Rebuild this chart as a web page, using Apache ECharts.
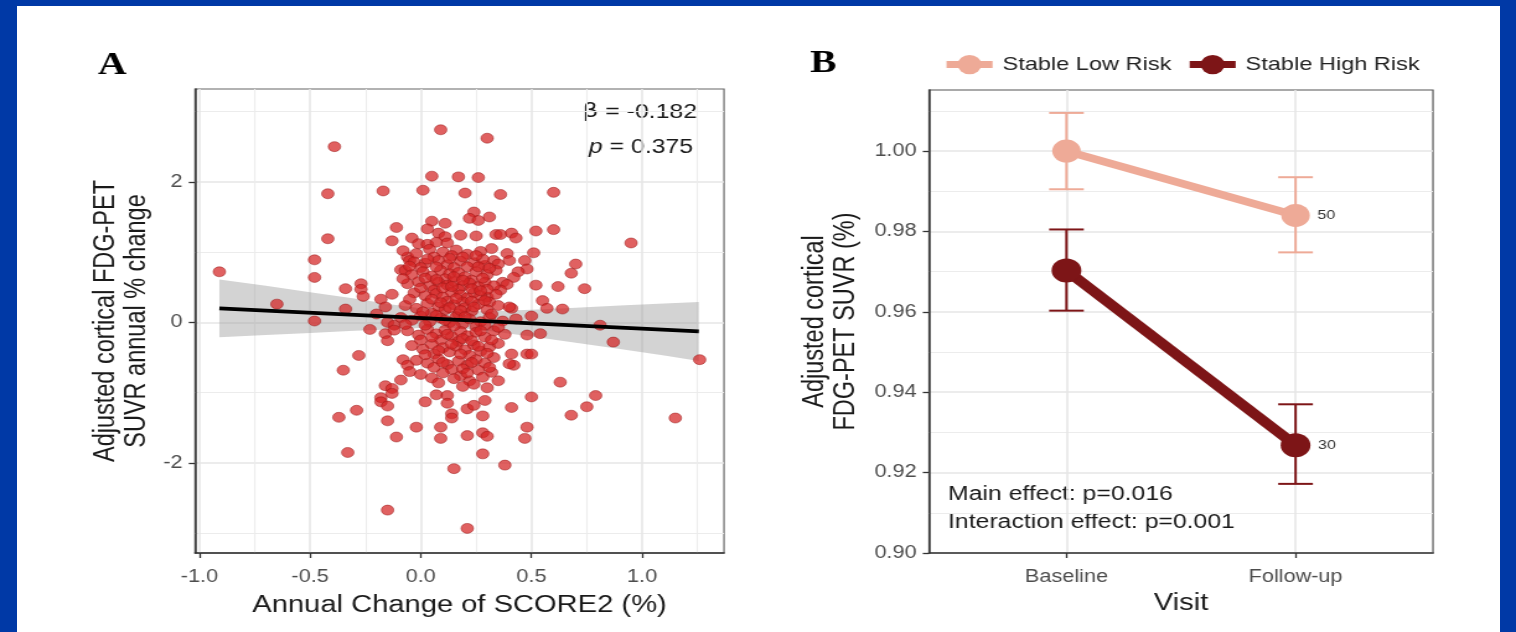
<!DOCTYPE html>
<html>
<head>
<meta charset="utf-8">
<script src="https://cdn.jsdelivr.net/npm/echarts@6.0.0/dist/echarts.min.js"></script>
<style>
  html, body { margin: 0; padding: 0; background: #0039a6; overflow: hidden; }
  #frame { position: absolute; left: 17px; top: 6px; width: 1483px; height: 626px; background: #fff; }
  #chart { position: absolute; left: 0; top: 0; height: 632px; transform-origin: 0 0; }
</style>
</head>
<body>
<div id="frame"></div>
<div id="chart"></div>
<script>
/******
  Panel A: scatter + fit, Panel B: visit means with error bars
******/

// ---- panel A data ----
var scorePoints = [
  [0.09,2.74],[-0.39,2.50],[0.30,2.62],[0.05,2.08],[0.17,2.07],[0.26,2.06],[-0.42,1.83],[-0.17,1.87],[0.01,1.88],[0.20,1.84],
  [0.36,1.82],[0.60,1.85],[0.24,1.57],[0.22,1.48],[0.26,1.45],[0.31,1.50],[0.05,1.44],[0.11,1.41],[-0.11,1.35],[0.03,1.33],
  [-0.42,1.19],[-0.13,1.16],[-0.04,1.20],[0.08,1.27],[0.11,1.22],[0.18,1.24],[0.25,1.23],[0.52,1.30],[0.60,1.32],[0.34,1.25],
  [0.36,1.25],[0.41,1.27],[0.43,1.20],[0.95,1.13],[-0.01,1.12],[0.03,1.11],[0.07,1.14],[0.12,1.13],[-0.48,0.89],[-0.48,0.64],
  [-0.91,0.72],[-0.34,0.48],[-0.27,0.55],[-0.27,0.47],[-0.26,0.37],[-0.13,0.40],[-0.65,0.26],[-0.34,0.19],[-0.48,0.02],[-0.09,0.75],
  [-0.07,0.74],[-0.06,0.93],[-0.05,0.88],[0.51,0.99],[0.47,0.88],[0.48,0.76],[0.70,0.83],[0.68,0.70],[0.52,0.53],[0.62,0.51],
  [0.74,0.48],[0.55,0.31],[0.57,0.20],[0.64,0.19],[0.41,0.20],[0.50,0.09],[0.39,0.98],[0.33,0.88],[0.29,0.81],[0.40,0.88],
  [0.44,0.72],[0.42,0.64],[0.37,0.57],[0.39,0.54],[0.36,0.46],[0.30,0.36],[0.31,0.29],[0.40,0.22],[0.81,-0.04],[-0.15,0.00],
  [-0.12,-0.04],[-0.28,-0.47],[-0.35,-0.68],[-0.16,-0.16],[-0.15,-0.26],[-0.12,-0.11],[-0.08,-0.53],[-0.06,-0.61],[-0.05,-0.70],[-0.09,-0.82],
  [-0.16,-0.90],[-0.13,-0.94],[-0.13,-1.01],[-0.18,-1.07],[-0.18,-1.13],[-0.15,-1.19],[-0.37,-1.35],[-0.29,-1.25],[-0.15,-1.40],[-0.33,-1.85],
  [-0.11,-1.63],[-0.02,-1.49],[0.02,-1.13],[0.07,-1.03],[0.12,-1.04],[0.12,-1.15],[0.14,-1.30],[0.14,-1.36],[0.09,-1.49],[0.09,-1.65],
  [0.21,-1.61],[0.21,-1.23],[0.24,-1.18],[0.22,-0.83],[0.19,-0.91],[0.28,-1.33],[0.28,-1.57],[0.30,-1.62],[0.28,-1.87],[0.15,-2.08],
  [-0.15,-2.67],[0.21,-2.93],[0.87,-0.28],[1.26,-0.53],[0.48,-0.18],[0.54,-0.16],[0.48,-0.45],[0.50,-0.45],[0.41,-0.45],[0.42,-0.61],
  [0.40,-0.59],[0.63,-0.85],[0.79,-1.04],[0.75,-1.20],[0.68,-1.32],[1.15,-1.36],[0.50,-1.06],[0.41,-1.21],[0.48,-1.49],[0.47,-1.65],
  [0.38,-2.03],[0.29,-1.11],[0.30,-0.93],
  // dense middle
  [-0.08,1.02],[-0.02,0.98],[0.04,1.04],[0.10,1.00],[0.16,1.03],[0.21,0.97],[0.27,1.01],[0.32,1.05],[0.14,0.95],[0.06,0.93],
  [-0.03,0.86],[0.02,0.84],[0.08,0.88],[0.12,0.82],[0.18,0.87],[0.24,0.85],[0.28,0.90],[0.35,0.83],[0.00,0.78],[0.15,0.78],[0.21,0.79],
  [-0.04,0.68],[0.01,0.72],[0.05,0.66],[0.09,0.74],[0.13,0.69],[0.17,0.71],[0.20,0.65],[0.25,0.72],[0.30,0.68],[0.34,0.74],[0.11,0.62],[0.23,0.60],
  [-0.06,0.55],[-0.01,0.58],[0.04,0.52],[0.08,0.57],[0.12,0.53],[0.15,0.58],[0.19,0.52],[0.22,0.56],[0.26,0.51],[0.29,0.57],[0.33,0.52],[0.17,0.47],[0.06,0.46],
  [-0.03,0.42],[0.02,0.38],[0.07,0.41],[0.10,0.36],[0.14,0.43],[0.18,0.39],[0.21,0.35],[0.24,0.42],[0.27,0.38],[0.34,0.40],[0.12,0.30],[0.19,0.29],
  [-0.07,0.24],[-0.02,0.20],[0.03,0.27],[0.08,0.22],[0.11,0.18],[0.15,0.25],[0.20,0.21],[0.23,0.16],[0.26,0.26],[0.30,0.18],[0.35,0.24],[0.05,0.13],[0.17,0.12],
  [-0.09,0.07],[-0.04,0.03],[0.00,0.09],[0.04,0.01],[0.09,0.06],[0.13,0.00],[0.16,0.08],[0.19,-0.02],[0.22,0.05],[0.27,0.01],[0.31,0.07],[0.37,0.02],[0.43,0.05],[0.25,-0.06],
  [-0.06,-0.12],[-0.01,-0.18],[0.03,-0.10],[0.07,-0.16],[0.11,-0.11],[0.14,-0.20],[0.18,-0.13],[0.21,-0.19],[0.25,-0.14],[0.29,-0.21],[0.33,-0.12],[0.38,-0.17],[0.09,-0.25],[0.17,-0.27],
  [-0.04,-0.33],[0.01,-0.38],[0.05,-0.31],[0.10,-0.36],[0.13,-0.42],[0.16,-0.34],[0.20,-0.39],[0.24,-0.32],[0.27,-0.41],[0.31,-0.35],[0.35,-0.30],[0.06,-0.45],[0.22,-0.47],
  [-0.02,-0.54],[0.03,-0.58],[0.08,-0.52],[0.12,-0.60],[0.17,-0.55],[0.21,-0.61],[0.25,-0.53],[0.29,-0.58],[0.33,-0.50],[0.14,-0.67],[0.26,-0.68],
  [0.00,-0.74],[0.05,-0.79],[0.10,-0.72],[0.18,-0.76],[0.28,-0.78],[0.32,-0.71],[0.35,-0.83],[0.24,-0.88],
  [-0.18,0.33],[-0.20,0.12],[-0.16,0.22],[-0.23,-0.10],
  [0.13,0.91],[0.19,0.93],[0.25,0.95],[0.03,0.90],[-0.05,0.80],[0.07,0.79],[0.26,0.79],[0.31,0.77],
  [0.15,0.65],[0.07,0.61],[0.28,0.63],[0.02,0.63],[-0.08,0.62],[0.19,0.60],
  [0.10,0.49],[0.23,0.48],[0.30,0.47],[0.00,0.49],[0.14,0.51],[0.27,0.45],
  [0.05,0.33],[0.16,0.34],[0.23,0.30],[0.29,0.31],[-0.05,0.33],[0.09,0.28],
  [0.13,0.21],[0.18,0.17],[0.01,0.15],[0.24,0.22],[0.32,0.12],[0.07,0.10],
  [0.11,0.03],[0.20,0.08],[0.02,-0.04],[0.15,-0.05],[0.29,-0.04],[0.35,-0.07],[-0.07,-0.03],
  [0.05,-0.21],[0.12,-0.17],[0.19,-0.23],[0.23,-0.26],[0.27,-0.12],[0.00,-0.25],[0.32,-0.25],
  [0.08,-0.40],[0.18,-0.45],[0.26,-0.34],[0.14,-0.31],[0.30,-0.44],[0.02,-0.46],
  [0.06,-0.64],[0.19,-0.66],[0.10,-0.57],[0.23,-0.57],[0.31,-0.64],[0.15,-0.80],[0.08,-0.86],[0.21,-0.72]
];
var fitX = [-0.91, 1.256];
var fitY = [0.20, -0.128];
var bandX  = [-0.91, -0.7, -0.5, -0.3, -0.14, 0.0, 0.15, 0.3, 0.5, 0.7, 0.9, 1.1, 1.256];
var bandLo = [-0.21, -0.18, -0.15, -0.12, -0.10, -0.08, -0.08, -0.12, -0.20, -0.29, -0.38, -0.47, -0.55];
var bandHi = [0.61, 0.52, 0.43, 0.34, 0.26, 0.20, 0.16, 0.16, 0.18, 0.21, 0.24, 0.27, 0.29];
var xTicksA = [-1.0, -0.5, 0.0, 0.5, 1.0];
var xMinorA = [-0.75, -0.25, 0.25, 0.75, 1.25];
var yTicksA = [-2, 0, 2];
var yMinorA = [-3, -1, 1, 3];

// ---- panel B data ----
var visits = ['Baseline', 'Follow-up'];
var visitPos = [1, 2];
var lowMean = [1.000, 0.984];
var lowLo = [0.9905, 0.9748];
var lowHi = [1.0095, 0.9935];
var highMean = [0.9703, 0.9268];
var highLo = [0.9603, 0.9172];
var highHi = [0.9805, 0.9370];
var lowN = ['', '50'];
var highN = ['', '30'];
var yTicksB = [0.90, 0.92, 0.94, 0.96, 0.98, 1.00];
var yMinorB = [0.91, 0.93, 0.95, 0.97, 0.99, 1.01];

var LOW = '#eeaa97', HIGH = '#7d1517';
var FONT = '"Liberation Sans", Arial, sans-serif';

// the source figure is stretched sideways, so draw narrow and scale the div
var W = 1516, SX = 1.24;
var cw = Math.round(W / SX);
var sx = W / cw;
var dom = document.getElementById('chart');
dom.style.width = cw + 'px';
dom.style.transform = 'scaleX(' + sx + ')';
function X(v) { return v / sx; }

var myChart = echarts.init(dom);

function pairs(xs, ys) {
  var res = [];
  for (var i = 0; i < xs.length; i++) res.push([xs[i], ys[i]]);
  return res;
}
function bars(lo, hi) {
  var res = [];
  for (var i = 0; i < visitPos.length; i++) res.push([visitPos[i], lo[i], hi[i]]);
  return res;
}
function bandRows() {
  var res = [];
  for (var i = 0; i < bandX.length; i++) res.push([bandX[i], bandLo[i], bandHi[i]]);
  return res;
}
// whole confidence band as one polygon, drawn once
function renderBand(params, api) {
  if (params.dataIndex !== 0) return null;
  var pts = [], i;
  for (i = 0; i < bandX.length; i++) pts.push(api.coord([bandX[i], bandHi[i]]));
  for (i = bandX.length - 1; i >= 0; i--) pts.push(api.coord([bandX[i], bandLo[i]]));
  return { type: 'polygon', shape: { points: pts }, style: { fill: 'rgba(150,150,150,0.42)' } };
}
function renderErr(params, api) {
  var top = api.coord([api.value(0), api.value(2)]);
  var bot = api.coord([api.value(0), api.value(1)]);
  var w = 14;
  var st = { stroke: api.visual('color'), lineWidth: 2 };
  return {
    type: 'group',
    children: [
      { type: 'line', shape: { x1: top[0], y1: top[1], x2: bot[0], y2: bot[1] }, style: st },
      { type: 'line', shape: { x1: top[0] - w, y1: top[1], x2: top[0] + w, y2: top[1] }, style: st },
      { type: 'line', shape: { x1: bot[0] - w, y1: bot[1], x2: bot[0] + w, y2: bot[1] }, style: st }
    ]
  };
}

var tickLabel = { fontSize: 17.5, color: '#4d4d4d', fontFamily: FONT };
var nameStyle = { fontSize: 23.5, color: '#1a1a1a', fontFamily: FONT };
var majorLine = { show: true, lineStyle: { color: '#e6e6e6', width: 1.6 } };
var minorLine = { show: true, lineStyle: { color: '#ececec', width: 1.1 } };
var axisLn = { show: true, onZero: false, lineStyle: { color: '#333', width: 1.5 } };

function hiddenAxis(grid, mn, mx, vals, pos) {
  return {
    type: 'value', gridIndex: grid, min: mn, max: mx, position: pos,
    axisLine: { show: false }, axisLabel: { show: false },
    axisTick: { show: false, customValues: vals },
    splitLine: minorLine
  };
}

var option = {
  animation: false,
  textStyle: { fontFamily: FONT },
  grid: [
    { left: X(195), top: 89, width: X(724) - X(195), height: 464,
      show: true, borderColor: '#666', borderWidth: 1.2, backgroundColor: 'transparent' },
    { left: X(929), top: 90, width: X(1433) - X(929), height: 463,
      show: true, borderColor: '#555', borderWidth: 1.2, backgroundColor: 'transparent' }
  ],
  legend: {
    data: ['Stable Low Risk', 'Stable High Risk'],
    left: X(936), top: 50,
    itemWidth: X(46), itemHeight: 24, itemGap: X(14),
    lineStyle: { width: 7 },
    textStyle: { fontSize: 19, color: '#222', fontFamily: FONT, padding: [0, 0, 0, 3] }
  },
  xAxis: [
    { type: 'value', gridIndex: 0, min: -1.02, max: 1.37,
      axisLine: axisLn,
      axisTick: { show: true, length: 5, customValues: xTicksA, lineStyle: { color: '#333', width: 1.3 } },
      axisLabel: { customValues: xTicksA, margin: 15, formatter: function (v) { return v.toFixed(1); }, fontSize: tickLabel.fontSize, color: tickLabel.color },
      splitLine: majorLine,
      name: 'Annual Change of SCORE2 (%)', nameLocation: 'middle', nameGap: 41, nameTextStyle: nameStyle },
    hiddenAxis(0, -1.02, 1.37, xMinorA, 'bottom'),
    { type: 'value', gridIndex: 1, min: 0.4, max: 2.6,
      axisLine: axisLn,
      axisTick: { show: true, length: 5, customValues: visitPos, lineStyle: { color: '#333', width: 1.3 } },
      axisLabel: { customValues: visitPos, margin: 15, formatter: function (v) { return visits[Math.round(v) - 1]; }, fontSize: tickLabel.fontSize, color: tickLabel.color },
      splitLine: majorLine,
      name: 'Visit', nameLocation: 'middle', nameGap: 39, nameTextStyle: nameStyle }
  ],
  yAxis: [
    { type: 'value', gridIndex: 0, min: -3.28, max: 3.32,
      axisLine: axisLn,
      axisTick: { show: true, length: 5, customValues: yTicksA, lineStyle: { color: '#333', width: 1.3 } },
      axisLabel: { customValues: yTicksA, margin: 10, formatter: function (v) { return String(v); }, fontSize: tickLabel.fontSize, color: tickLabel.color },
      splitLine: majorLine,
      name: 'Adjusted cortical FDG-PET\nSUVR annual % change', nameLocation: 'middle', nameRotate: 90, nameGap: 34,
      nameTextStyle: { fontSize: 23.5, color: '#1a1a1a', fontFamily: FONT, lineHeight: 25.5 } },
    hiddenAxis(0, -3.28, 3.32, yMinorA, 'left'),
    { type: 'value', gridIndex: 1, min: 0.9, max: 1.0152,
      axisLine: axisLn,
      axisTick: { show: true, length: 5, customValues: yTicksB, lineStyle: { color: '#333', width: 1.3 } },
      axisLabel: { customValues: yTicksB, margin: 10, formatter: function (v) { return v.toFixed(2); }, fontSize: tickLabel.fontSize, color: tickLabel.color },
      splitLine: majorLine,
      name: 'Adjusted cortical\nFDG-PET SUVR (%)', nameLocation: 'middle', nameRotate: 90, nameGap: 55,
      nameTextStyle: { fontSize: 23.5, color: '#1a1a1a', fontFamily: FONT, lineHeight: 24.5 } },
    hiddenAxis(1, 0.9, 1.0152, yMinorB, 'left')
  ],
  graphic: [
    { type: 'text', left: X(98), top: 50, style: { text: 'A', fontSize: 32, fontWeight: 'bold', fontFamily: '"Liberation Serif", "DejaVu Serif", serif', fill: '#000' } },
    { type: 'text', left: X(810), top: 48, style: { text: 'B', fontSize: 32, fontWeight: 'bold', fontFamily: '"Liberation Serif", "DejaVu Serif", serif', fill: '#000' } },
    { type: 'text', x: X(697), y: 112, style: { text: '{b|β} = -0.182', align: 'right', verticalAlign: 'middle', fontSize: 20, fontFamily: FONT, fill: '#1a1a1a',
      rich: { b: { fontSize: 20, fontFamily: '"DejaVu Sans", sans-serif', fill: '#1a1a1a' } } } },
    { type: 'text', x: X(693), y: 147, style: { text: '{i|p} = 0.375', align: 'right', verticalAlign: 'middle', fontSize: 20, fontFamily: FONT, fill: '#1a1a1a',
      rich: { i: { fontStyle: 'italic', fontSize: 20, fontFamily: FONT, fill: '#1a1a1a' } } } },
    { type: 'text', x: X(948), y: 494, style: { text: 'Main effect: p=0.016', align: 'left', verticalAlign: 'middle', fontSize: 20, fontFamily: FONT, fill: '#1a1a1a' } },
    { type: 'text', x: X(948), y: 522, style: { text: 'Interaction effect: p=0.001', align: 'left', verticalAlign: 'middle', fontSize: 20, fontFamily: FONT, fill: '#1a1a1a' } }
  ],
  series: [
    { type: 'scatter', xAxisIndex: 0, yAxisIndex: 0, data: scorePoints, symbolSize: 10, silent: true,
      itemStyle: { color: 'rgba(212,36,36,0.9)', borderColor: 'rgba(150,20,20,0.75)', borderWidth: 0.8 } },
    { type: 'custom', xAxisIndex: 0, yAxisIndex: 0, data: bandRows(), renderItem: renderBand,
      encode: { x: 0, y: [1, 2] }, silent: true },
    { type: 'line', xAxisIndex: 0, yAxisIndex: 0, data: pairs(fitX, fitY), symbol: 'none', silent: true,
      lineStyle: { color: '#000', width: 3.6 } },

    { type: 'custom', xAxisIndex: 2, yAxisIndex: 2, data: bars(lowLo, lowHi), renderItem: renderErr,
      encode: { x: 0, y: [1, 2] }, itemStyle: { color: LOW }, z: 1, silent: true },
    { type: 'custom', xAxisIndex: 2, yAxisIndex: 2, data: bars(highLo, highHi), renderItem: renderErr,
      encode: { x: 0, y: [1, 2] }, itemStyle: { color: HIGH }, z: 1, silent: true },
    { name: 'Stable Low Risk', type: 'line', xAxisIndex: 2, yAxisIndex: 2, data: pairs(visitPos, lowMean),
      symbol: 'circle', symbolSize: 23, color: LOW, lineStyle: { width: 7.5, color: LOW }, itemStyle: { color: LOW },
      label: { show: true, position: 'right', distance: 6, fontSize: 13, color: '#333',
        formatter: function (p) { return lowN[p.dataIndex]; } } },
    { name: 'Stable High Risk', type: 'line', xAxisIndex: 2, yAxisIndex: 2, data: pairs(visitPos, highMean),
      symbol: 'circle', symbolSize: 24, color: HIGH, lineStyle: { width: 9.5, color: HIGH }, itemStyle: { color: HIGH },
      label: { show: true, position: 'right', distance: 6, fontSize: 13, color: '#333',
        formatter: function (p) { return highN[p.dataIndex]; } } }
  ]
};

myChart.setOption(option);
</script>
</body>
</html>
